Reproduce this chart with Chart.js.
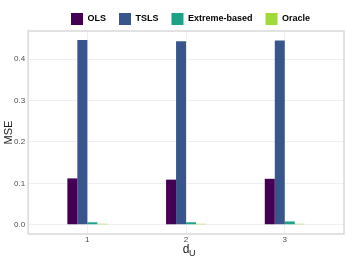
<!DOCTYPE html>
<html>
<head>
<meta charset="utf-8">
<script src="https://cdn.jsdelivr.net/npm/chart.js@4/dist/chart.umd.min.js"></script>
<style>
  html, body { margin:0; padding:0; background:#fff; }
  #wrap { width:346px; height:259px; position:relative; }
</style>
</head>
<body>
<div id="wrap"><canvas id="chart"></canvas></div>
<script>
// values
const dU = [1, 2, 3];
const seriesNames = ['OLS', 'TSLS', 'Extreme-based', 'Oracle'];
const olsMSE = [0.112, 0.109, 0.111];
const tslsMSE = [0.446, 0.443, 0.445];
const extremeMSE = [0.006, 0.006, 0.008];
const oracleMSE = [0.002, 0.002, 0.002];
const yTicks = [0.0, 0.1, 0.2, 0.3, 0.4];

const colors = ['#440154', '#39568C', '#1FA187', '#9FDA3A'];
const font = 'Liberation Sans, Arial, Helvetica, sans-serif';

function points(vals){ return dU.map((x, i) => ({ x: x, y: vals[i] })); }

const allSeries = [olsMSE, tslsMSE, extremeMSE, oracleMSE];

// legend nudge, panel border, subscript U on x title
const tweaks = {
  id: 'tweaks',
  afterLayout(chart){
    const lg = chart.legend;
    if (lg) { lg.left += 17; lg.right += 17; }
  },
  afterDraw(chart){
    const a = chart.chartArea;
    const xs = chart.scales.x;
    const ctx = chart.ctx;
    ctx.save();
    ctx.strokeStyle = '#d9d9d9';
    ctx.lineWidth = 1.5;
    ctx.strokeRect(a.left, a.top, a.right - a.left, a.bottom - a.top);
    ctx.font = '12px ' + font;
    const w = ctx.measureText('d').width;
    const cx = (a.left + a.right) / 2;
    ctx.fillStyle = '#1a1a1a';
    ctx.font = '9px ' + font;
    ctx.textBaseline = 'alphabetic';
    ctx.fillText('U', cx + w / 2 - 0.5, xs.bottom);
    ctx.restore();
  }
};

new Chart(document.getElementById('chart'), {
  type: 'bar',
  data: {
    datasets: seriesNames.map((name, i) => ({
      label: name,
      data: points(allSeries[i]),
      backgroundColor: colors[i],
      borderWidth: 0,
      minBarLength: 1
    }))
  },
  options: {
    responsive: true,
    maintainAspectRatio: false,
    animation: false,
    categoryPercentage: 0.405,
    barPercentage: 1.0,
    layout: { padding: { left: 3, right: 2, top: 0, bottom: 3 } },
    plugins: {
      legend: {
        position: 'top',
        maxHeight: 31,
        labels: {
          boxWidth: 12, boxHeight: 12, padding: 13,
          color: '#000',
          font: { family: font, size: 9, weight: 'bold' }
        }
      },
      tooltip: { enabled: false }
    },
    scales: {
      x: {
        type: 'linear',
        offset: false,
        min: 0.4, max: 3.6,
        afterBuildTicks: s => { s.ticks = dU.map(v => ({ value: v })); },
        grid: { color: '#efefef', lineWidth: 1, drawTicks: false, offset: false },
        border: { display: false },
        ticks: { color: '#4d4d4d', padding: 2, font: { family: font, size: 8, lineHeight: 1 }, callback: v => String(v) },
        title: { display: true, text: 'd', color: '#1a1a1a', padding: { top: -2, bottom: 0 }, font: { family: font, size: 12, lineHeight: 1 } }
      },
      y: {
        min: -0.0223, max: 0.468,
        afterBuildTicks: s => { s.ticks = yTicks.map(v => ({ value: v })); },
        grid: { color: '#efefef', lineWidth: 1, drawTicks: false },
        border: { display: false },
        ticks: { color: '#4d4d4d', padding: 3, font: { family: font, size: 8 }, callback: v => v.toFixed(1) },
        title: { display: true, text: 'MSE', color: '#1a1a1a', padding: { top: 0, bottom: -3 }, font: { family: font, size: 11, lineHeight: 1 } }
      }
    }
  },
  plugins: [tweaks]
});
</script>
</body>
</html>
